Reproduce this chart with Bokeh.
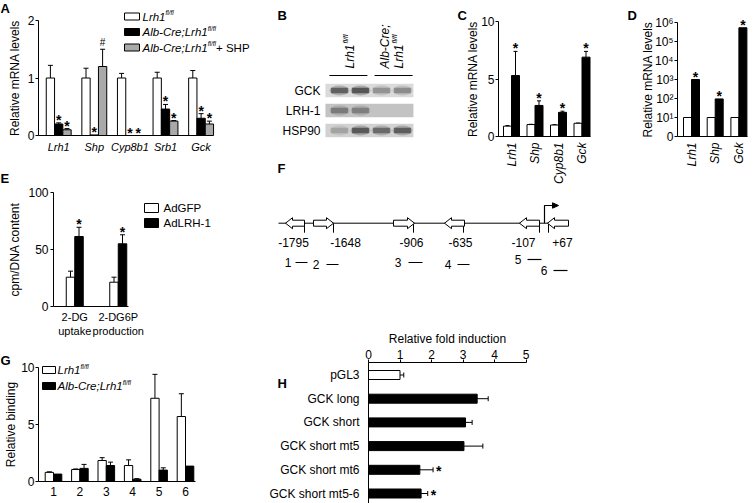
import math
from bokeh.plotting import figure
from bokeh.models import Range1d, FixedTicker, Label, Whisker, TeeHead, ColumnDataSource
from bokeh.layouts import row, column
from bokeh.embed import file_html
from bokeh.resources import INLINE
from bokeh.core.properties import value

FONT = "Liberation Sans"
GRAY = "#a9a9a9"

# ---------------- data ----------------
a_genes = ["Lrh1", "Shp", "Cyp8b1", "Srb1", "Gck"]
a_flox = [1.0, 1.0, 1.0, 1.0, 1.0]
a_flox_err = [0.22, 0.17, 0.08, 0.10, 0.13]
a_ko = [0.20, 0.01, 0.0, 0.46, 0.30]
a_ko_err = [0.02, 0.0, 0.0, 0.08, 0.08]
a_ko_mark = ["*", "*", "*", "*", "*"]
a_shp = [0.10, 1.20, 0.0, 0.25, 0.20]
a_shp_err = [0.02, 0.30, 0.0, 0.01, 0.05]
a_shp_mark = ["*", "#", "*", "*", "*"]

b_proteins = ["GCK", "LRH-1", "HSP90"]
b_gck = [0.85, 0.95, 0.45, 0.50]
b_lrh1 = [0.55, 0.50, 0.0, 0.0]
b_hsp90 = [0.30, 0.90, 0.75, 0.85]

c_genes = ["Lrh1", "Shp", "Cyp8b1", "Gck"]
c_ctrl = [0.90, 1.04, 1.00, 1.15]
c_ctrl_err = [0.05, 0.02, 0.03, 0.02]
c_lrh = [5.3, 2.7, 2.1, 6.9]
c_lrh_err = [2.1, 0.4, 0.1, 0.5]

d_genes = ["Lrh1", "Shp", "Gck"]
d_ctrl = [10, 10, 10]
d_lrh = [1000, 95, 530000]

e_assays = ["2-DG\nuptake", "2-DG6P\nproduction"]
e_gfp = [25.7, 21.3]
e_gfp_err = [5.3, 4.4]
e_lrh = [61.4, 55.0]
e_lrh_err = [8.1, 7.9]

f_sites = ["-1795", "-1648", "-906", "-635", "-107", "+67"]
f_orient = ["left", "right", "right", "left", "left", "left"]
f_primers = ["1", "2", "3", "4", "5", "6"]

g_regions = ["1", "2", "3", "4", "5", "6"]
g_flox = [0.80, 1.05, 1.84, 1.40, 7.30, 5.70]
g_flox_err = [0.05, 0.05, 0.25, 0.50, 2.10, 2.00]
g_ko = [0.65, 1.15, 1.40, 0.20, 1.00, 1.35]
g_ko_err = [0.0, 0.35, 0.30, 0.05, 0.20, 0.0]

h_constructs = ["pGL3", "GCK long", "GCK short", "GCK short mt5", "GCK short mt6", "GCK short mt5-6"]
h_fold = [1.00, 3.45, 3.08, 3.03, 1.63, 1.67]
h_fold_err = [0.12, 0.35, 0.21, 0.60, 0.42, 0.21]
h_mark = ["", "", "", "", "*", "*"]

# ---------------- helpers ----------------
W = {'L': 556, 'r': 333, 'h': 556, '1': 556, 'A': 667, 'l': 222, 'b': 556, '-': 333,
     'C': 722, 'e': 556, ';': 278, ' ': 278, '+': 584, 'S': 667, 'H': 722, 'P': 667,
     'f': 278, '/': 278}


def tw(s, size):
    return sum(W.get(c, 556) for c in s) * size / 1000.0


def lin(p0, d0, ppu, flip=False):
    s = -1.0 if flip else 1.0
    return lambda pg: d0 + s * (pg - p0) / ppu


def make_fig(ox, oy, w, h, fx, fy, **kw):
    # the frame fills the whole figure; axes are pinned with fixed_location
    p = figure(width=w, height=h, output_backend="svg", toolbar_location=None,
               x_range=Range1d(fx(ox), fx(ox + w)), y_range=Range1d(fy(oy + h), fy(oy)),
               min_border_left=0, min_border_right=0, min_border_top=0, min_border_bottom=0, **kw)
    p.outline_line_color = None
    p.grid.visible = False
    p.background_fill_color = "white"
    p.border_fill_color = "white"
    return p


def style_axis(ax, tick_out=3, standoff=2, label_standoff=3, size="12px"):
    ax.axis_line_color = "black"
    ax.axis_line_width = 1
    ax.major_tick_in = 0
    ax.major_tick_out = tick_out
    ax.major_tick_line_color = "black" if tick_out else None
    ax.minor_tick_line_color = None
    ax.major_label_standoff = standoff
    ax.major_label_text_font = FONT
    ax.major_label_text_font_size = size
    ax.major_label_text_color = "black"
    ax.axis_label_text_font = FONT
    ax.axis_label_text_font_size = "12px"
    ax.axis_label_text_font_style = "normal"
    ax.axis_label_text_color = "black"
    ax.axis_label_standoff = label_standoff


def letter(p, txt, x, y):
    p.add_layout(Label(x=x, y=y, text=txt, text_font=FONT, text_font_size="13px",
                       text_font_style="bold", text_baseline="top", text_align="left",
                       text_color="black"))


def rich(p, x, y, parts, fx, fy):
    cx = x
    for txt, size, style, rise in parts:
        p.text(x=[fx(cx)], y=[fy(y - rise)], text=[txt], text_font=value(FONT),
               text_font_size=value(f"{size}px"), text_font_style=style,
               text_align="left", text_baseline="middle", text_color="black")
        cx += tw(txt, size)


def whiskers(p, base, val, err, dim="height", size=5):
    trip = [(b, v, v + e) for b, v, e in zip(base, val, err) if e > 0]
    if not trip:
        return
    src = ColumnDataSource(dict(base=[t[0] for t in trip], lower=[t[1] for t in trip],
                                upper=[t[2] for t in trip]))
    p.add_layout(Whisker(source=src, base="base", lower="lower", upper="upper", dimension=dim,
                         line_color="black", line_width=1,
                         upper_head=TeeHead(size=size, line_color="black", line_width=1),
                         lower_head=None))


def marks(p, xs, ys, txt):
    pts = [(x, y, t) for x, y, t in zip(xs, ys, txt) if t]
    stars = [q for q in pts if q[2] == "*"]
    other = [q for q in pts if q[2] != "*"]
    if stars:
        p.text(x=[q[0] for q in stars], y=[q[1] for q in stars], text=[q[2] for q in stars],
               text_font=value(FONT), text_font_size=value("14px"), text_font_style="bold",
               text_align="center", text_baseline="middle", text_color="black", y_offset=-3)
    if other:
        p.text(x=[q[0] for q in other], y=[q[1] for q in other], text=[q[2] for q in other],
               text_font=value(FONT), text_font_size=value("10px"),
               text_align="center", text_baseline="middle", text_color="black", y_offset=-7)


# ---------------- A ----------------
fxA = lin(58.2, 0, 35.6)
fyA = lin(135, 0, 57.5, flip=True)
pA = make_fig(0, 0, 255, 170, fxA, fyA)
xa = list(range(len(a_genes)))
bwA = 8.3 / 35.6
pA.vbar(x=[i - bwA for i in xa], top=a_flox, width=bwA, fill_color="white", line_color="black")
pA.vbar(x=xa, top=a_ko, width=bwA, fill_color="black", line_color="black")
pA.vbar(x=[i + bwA for i in xa], top=a_shp, width=bwA, fill_color=GRAY, line_color="black")
whiskers(pA, [i - bwA for i in xa], a_flox, a_flox_err)
whiskers(pA, xa, a_ko, a_ko_err)
whiskers(pA, [i + bwA for i in xa], a_shp, a_shp_err)
marks(pA, xa, [v + e for v, e in zip(a_ko, a_ko_err)], a_ko_mark)
marks(pA, [i + bwA for i in xa], [v + e for v, e in zip(a_shp, a_shp_err)], a_shp_mark)
pA.xaxis.ticker = FixedTicker(ticks=xa)
pA.xaxis.major_label_overrides = {i: g for i, g in enumerate(a_genes)}
pA.xaxis.bounds = (fxA(38), fxA(212))
pA.xaxis.fixed_location = 0
style_axis(pA.xaxis, tick_out=0, standoff=5, size="11px")
pA.xaxis.major_label_text_font_style = "italic"
pA.yaxis.ticker = FixedTicker(ticks=[0, 1, 2])
pA.yaxis.bounds = (0, 2)
pA.yaxis.fixed_location = fxA(38)
pA.yaxis.axis_label = "Relative mRNA levels"
style_axis(pA.yaxis, tick_out=3, standoff=1, label_standoff=3)
legA = [16, 31.5, 47]
pA.quad(left=[fxA(124)] * 3, right=[fxA(139)] * 3, top=[fyA(y - 3.5) for y in legA],
        bottom=[fyA(y + 3.5) for y in legA], fill_color=["white", "black", GRAY], line_color="black")
rich(pA, 142, legA[0], [("Lrh1", 11.5, "italic", 0), ("fl/fl", 6.5, "italic", 4)], fxA, fyA)
rich(pA, 142, legA[1], [("Alb-Cre;Lrh1", 11.5, "italic", 0), ("fl/fl", 6.5, "italic", 4)], fxA, fyA)
rich(pA, 142, legA[2], [("Alb-Cre;Lrh1", 11.5, "italic", 0), ("fl/fl", 6.5, "italic", 4),
                        (" + SHP", 11.5, "normal", 0)], fxA, fyA)
letter(pA, "A", fxA(0), fyA(0.5))

# ---------------- E ----------------
fxE = lin(74.25, 0, 43.5)
fyE = lin(306, 0, 1.14, flip=True)
pE = make_fig(0, 170, 255, 170, fxE, fyE)
xe = list(range(len(e_assays)))
bwE = 8.5 / 43.5
pE.vbar(x=[i - bwE / 2 for i in xe], top=e_gfp, width=bwE, fill_color="white", line_color="black")
pE.vbar(x=[i + bwE / 2 for i in xe], top=e_lrh, width=bwE, fill_color="black", line_color="black")
whiskers(pE, [i - bwE / 2 for i in xe], e_gfp, e_gfp_err)
whiskers(pE, [i + bwE / 2 for i in xe], e_lrh, e_lrh_err)
marks(pE, [i + bwE / 2 for i in xe], [v + e for v, e in zip(e_lrh, e_lrh_err)], ["*"] * 2)
pE.xaxis.ticker = FixedTicker(ticks=xe)
pE.xaxis.major_label_overrides = {i: g for i, g in enumerate(e_assays)}
pE.xaxis.bounds = (fxE(53), fxE(128))
pE.xaxis.fixed_location = 0
style_axis(pE.xaxis, tick_out=0, standoff=4, size="11px")
pE.yaxis.ticker = FixedTicker(ticks=[0, 50, 100])
pE.yaxis.bounds = (0, 100)
pE.yaxis.fixed_location = fxE(53)
pE.yaxis.axis_label = "cpm/DNA content"
style_axis(pE.yaxis, tick_out=3, standoff=2, label_standoff=3)
legE = [207.5, 222.5]
pE.quad(left=[fxE(144)] * 2, right=[fxE(158)] * 2, top=[fyE(y - 4.5) for y in legE],
        bottom=[fyE(y + 4.5) for y in legE], fill_color=["white", "black"], line_color="black")
rich(pE, 163, legE[0], [("AdGFP", 11.5, "normal", 0)], fxE, fyE)
rich(pE, 163, legE[1], [("AdLRH-1", 11.5, "normal", 0)], fxE, fyE)
letter(pE, "E", fxE(0), fyE(170.5))

# ---------------- G ----------------
fxG = lin(53, 0, 26.4)
fyG = lin(481, 0, 11.4, flip=True)
pG = make_fig(0, 340, 255, 163, fxG, fyG)
xg = list(range(len(g_regions)))
bwG = 8.3 / 26.4
pG.vbar(x=[i - bwG / 2 for i in xg], top=g_flox, width=bwG, fill_color="white", line_color="black")
pG.vbar(x=[i + bwG / 2 for i in xg], top=g_ko, width=bwG, fill_color="black", line_color="black")
whiskers(pG, [i - bwG / 2 for i in xg], g_flox, g_flox_err)
whiskers(pG, [i + bwG / 2 for i in xg], g_ko, g_ko_err)
pG.xaxis.ticker = FixedTicker(ticks=xg)
pG.xaxis.major_label_overrides = {i: g for i, g in enumerate(g_regions)}
pG.xaxis.bounds = (fxG(38), fxG(195))
pG.xaxis.fixed_location = 0
style_axis(pG.xaxis, tick_out=0, standoff=5)
pG.yaxis.ticker = FixedTicker(ticks=[0, 5, 10])
pG.yaxis.bounds = (0, 10)
pG.yaxis.fixed_location = fxG(38)
pG.yaxis.axis_label = "Relative binding"
style_axis(pG.yaxis, tick_out=3, standoff=1, label_standoff=0)
legG = [369.5, 385.5]
pG.quad(left=[fxG(42)] * 2, right=[fxG(55)] * 2, top=[fyG(y - 3.5) for y in legG],
        bottom=[fyG(y + 3.5) for y in legG], fill_color=["white", "black"], line_color="black")
rich(pG, 57, legG[0], [("Lrh1", 11.5, "italic", 0), ("fl/fl", 6.5, "italic", 4)], fxG, fyG)
rich(pG, 57, legG[1], [("Alb-Cre;Lrh1", 11.5, "italic", 0), ("fl/fl", 6.5, "italic", 4)], fxG, fyG)
letter(pG, "G", fxG(0), fyG(352.5))

# ---------------- B (western blot) ----------------
fxB = lin(339, 0, 21)
fyB = lin(90, 0, 20)
pB = make_fig(255, 0, 200, 185, fxB, fyB)
pB.axis.visible = False
rows_b = list(range(len(b_proteins)))
lanes = [0, 1, 2, 3]
blot_l, blot_r = -0.67, 3.52
pB.rect(x=[(blot_l + blot_r) / 2] * 3, y=rows_b, width=blot_r - blot_l, height=0.68,
        fill_color=["#dadada", "#c3c3c3", "#d2d2d2"], line_color=None)
for r, vals in zip(rows_b, [b_gck, b_lrh1, b_hsp90]):
    pB.ellipse(x=lanes, y=[r] * 4, width=0.95, height=0.5, fill_color="#303030",
               fill_alpha=[0.3 * v for v in vals], line_color=None)
    pB.rect(x=lanes, y=[r] * 4, width=0.8, height=0.28, fill_color="#222222",
            fill_alpha=[0.65 * v for v in vals], line_color=None)
pB.text(x=[fxB(320)] * 3, y=rows_b, text=b_proteins, text_font=value(FONT),
        text_font_size=value("12px"), text_align="right", text_baseline="middle", text_color="black")
pB.segment(x0=[lanes[0] - 0.48, lanes[2] - 0.33], x1=[lanes[1] + 0.33, lanes[3] + 0.48],
           y0=[fyB(75)] * 2, y1=[fyB(75)] * 2, line_color="black", line_width=1)
rot = dict(angle=math.pi / 2, text_font=value(FONT), text_align="left", text_baseline="middle",
           text_color="black", text_font_style="italic")
pB.text(x=[fxB(349), fxB(384), fxB(398)], y=[fyB(68)] * 3, text=["Lrh1", "Alb-Cre;", "Lrh1"],
        text_font_size=value("12px"), **rot)
pB.text(x=[fxB(345), fxB(394)], y=[fyB(68 - 25)] * 2, text=["fl/fl", "fl/fl"],
        text_font_size=value("7px"), **rot)
letter(pB, "B", fxB(277), fyB(7.5))
letter(pB, "F", fxB(277), fyB(160.5))

# ---------------- C ----------------
fxC = lin(511, 0, 23.5)
fyC = lin(136, 0, 11.5, flip=True)
pC = make_fig(455, 0, 155, 185, fxC, fyC)
xc = list(range(len(c_genes)))
bwC = 8 / 23.5
pC.vbar(x=[i - bwC / 2 for i in xc], top=c_ctrl, width=bwC, fill_color="white", line_color="black")
pC.vbar(x=[i + bwC / 2 for i in xc], top=c_lrh, width=bwC, fill_color="black", line_color="black")
whiskers(pC, [i - bwC / 2 for i in xc], c_ctrl, c_ctrl_err, size=4)
whiskers(pC, [i + bwC / 2 for i in xc], c_lrh, c_lrh_err, size=4)
marks(pC, [i + bwC / 2 for i in xc], [v + e for v, e in zip(c_lrh, c_lrh_err)], ["*"] * 4)
pC.xaxis.ticker = FixedTicker(ticks=xc)
pC.xaxis.major_label_overrides = {i: g for i, g in enumerate(c_genes)}
pC.xaxis.bounds = (fxC(498), fxC(590))
pC.xaxis.fixed_location = 0
style_axis(pC.xaxis, tick_out=0, standoff=6)
pC.xaxis.major_label_orientation = math.pi / 2
pC.xaxis.major_label_text_font_style = "italic"
pC.yaxis.ticker = FixedTicker(ticks=[0, 5, 10])
pC.yaxis.bounds = (0, 10)
pC.yaxis.fixed_location = fxC(498)
pC.yaxis.axis_label = "Relative mRNA levels"
style_axis(pC.yaxis, tick_out=3, standoff=1, label_standoff=-2)
letter(pC, "C", fxC(457), fyC(7.5))

# ---------------- D ----------------
fxD = lin(691, 0, 23.7)
fyD = lambda pg: 10 ** ((136 - pg) / 19.0)
pD = make_fig(610, 0, 145, 185, fxD, fyD, y_axis_type="log")
xd = list(range(len(d_genes)))
bwD = 8 / 23.7
pD.vbar(x=[i - bwD / 2 for i in xd], bottom=1, top=d_ctrl, width=bwD, fill_color="white", line_color="black")
pD.vbar(x=[i + bwD / 2 for i in xd], bottom=1, top=d_lrh, width=bwD, fill_color="black", line_color="black")
marks(pD, [i + bwD / 2 for i in xd], d_lrh, ["*"] * 3)
pD.xaxis.ticker = FixedTicker(ticks=xd)
pD.xaxis.major_label_overrides = {i: g for i, g in enumerate(d_genes)}
pD.xaxis.bounds = (fxD(677), fxD(747))
pD.xaxis.fixed_location = 1
style_axis(pD.xaxis, tick_out=0, standoff=6)
pD.xaxis.major_label_orientation = math.pi / 2
pD.xaxis.major_label_text_font_style = "italic"
d_ticks = [1, 10, 100, 1000, 10000, 100000, 1000000]
pD.yaxis.ticker = FixedTicker(ticks=d_ticks)
pD.yaxis.major_label_overrides = {1: "0", 10: "10¹", 100: "10²", 1000: "10³", 10000: "10⁴",
                                  100000: "10⁵", 1000000: "10⁶"}
pD.yaxis.bounds = (1, 1000000)
pD.yaxis.fixed_location = fxD(677)
pD.yaxis.axis_label = "Relative mRNA levels"
style_axis(pD.yaxis, tick_out=3, standoff=1, label_standoff=-3)
letter(pD, "D", fxD(627), fyD(7.5))

# ---------------- F (promoter diagram) ----------------
fxF = lambda pg: pg
fyF = lambda pg: pg
pF = make_fig(255, 185, 500, 145, fxF, fyF)
pF.axis.visible = False
F_Y = 222.7
f_line = (278, 568)
f_arrow_x = [(285, 304), (313, 333), (393, 414), (444, 464), (519, 539), (547, 568)]
f_tick_x = [304, 333, 413, 463, 539, 548]
f_label_x = [293, 345, 411, 460, 523, 562]
f_primer_pos = [(291, 262, 295, 307), (319, 264, 326, 338), (401, 262, 408, 422),
                (451, 264, 457, 469), (521, 259, 527, 541), (547, 270, 553, 567)]
pF.line(x=list(f_line), y=[F_Y, F_Y], line_color="black", line_width=1)
xs_p, ys_p = [], []
hl, hh, bh = 7, 5.5, 3.0
for (x0, x1), o in zip(f_arrow_x, f_orient):
    if o == "left":
        xs_p.append([x0, x0 + hl, x0 + hl, x1, x1, x0 + hl, x0 + hl])
    else:
        xs_p.append([x1, x1 - hl, x1 - hl, x0, x0, x1 - hl, x1 - hl])
    ys_p.append([F_Y, F_Y - hh, F_Y - bh, F_Y - bh, F_Y + bh, F_Y + bh, F_Y + hh])
pF.segment(x0=f_tick_x, x1=f_tick_x, y0=[F_Y] * 6, y1=[F_Y + 9.5] * 6, line_color="black", line_width=1)
pF.patches(xs=xs_p, ys=ys_p, fill_color="white", line_color="black", line_width=1)
pF.line(x=[544, 544, 553], y=[F_Y, 205, 205], line_color="black", line_width=1.2)
pF.patches(xs=[[552, 558, 552]], ys=[[202.3, 205, 207.7]], fill_color="black", line_color="black")
pF.text(x=f_label_x, y=[242] * 6, text=f_sites, text_font=value(FONT), text_font_size=value("12px"),
        text_align="center", text_baseline="middle", text_color="black")
pF.text(x=[q[0] for q in f_primer_pos], y=[q[1] for q in f_primer_pos], text=f_primers,
        text_font=value(FONT), text_font_size=value("12px"), text_align="right",
        text_baseline="middle", text_color="black")
pF.segment(x0=[q[2] for q in f_primer_pos], x1=[q[3] for q in f_primer_pos],
           y0=[q[1] for q in f_primer_pos], y1=[q[1] for q in f_primer_pos],
           line_color="black", line_width=1.2)

# ---------------- H ----------------
fxH = lin(368, 0, 31.5)
fyH = lin(374.5, 0, 23.7)
pH = make_fig(255, 330, 500, 173, fxH, fyH, x_axis_location="above")
yh = list(range(len(h_constructs)))
bhH = 9 / 23.7
pH.hbar(y=yh, left=0, right=h_fold, height=bhH,
        fill_color=["white"] + ["black"] * (len(yh) - 1), line_color="black")
whiskers(pH, yh, h_fold, h_fold_err, dim="width", size=5)
pts = [(v + e, y) for v, e, y, m in zip(h_fold, h_fold_err, yh, h_mark) if m]
pH.text(x=[q[0] for q in pts], y=[q[1] for q in pts], text=["*"] * len(pts), text_font=value(FONT),
        text_font_size=value("14px"), text_font_style="bold", text_align="left",
        text_baseline="middle", x_offset=3, y_offset=1, text_color="black")
pH.xaxis.ticker = FixedTicker(ticks=[0, 1, 2, 3, 4, 5])
pH.xaxis.bounds = (0, 5)
pH.xaxis.fixed_location = fyH(362)
pH.xaxis.axis_label = "Relative fold induction"
style_axis(pH.xaxis, tick_out=3, standoff=1, label_standoff=1)
pH.yaxis.ticker = FixedTicker(ticks=yh)
pH.yaxis.major_label_overrides = {i: c for i, c in enumerate(h_constructs)}
pH.yaxis.fixed_location = 0
pH.yaxis.bounds = (fyH(503), fyH(362))
style_axis(pH.yaxis, tick_out=0, standoff=9)
letter(pH, "H", fxH(277), fyH(375.5))

layout = row(column(pA, pE, pG), column(row(pB, pC, pD), pF, pH))
open("out.html", "w").write(file_html(layout, INLINE))
